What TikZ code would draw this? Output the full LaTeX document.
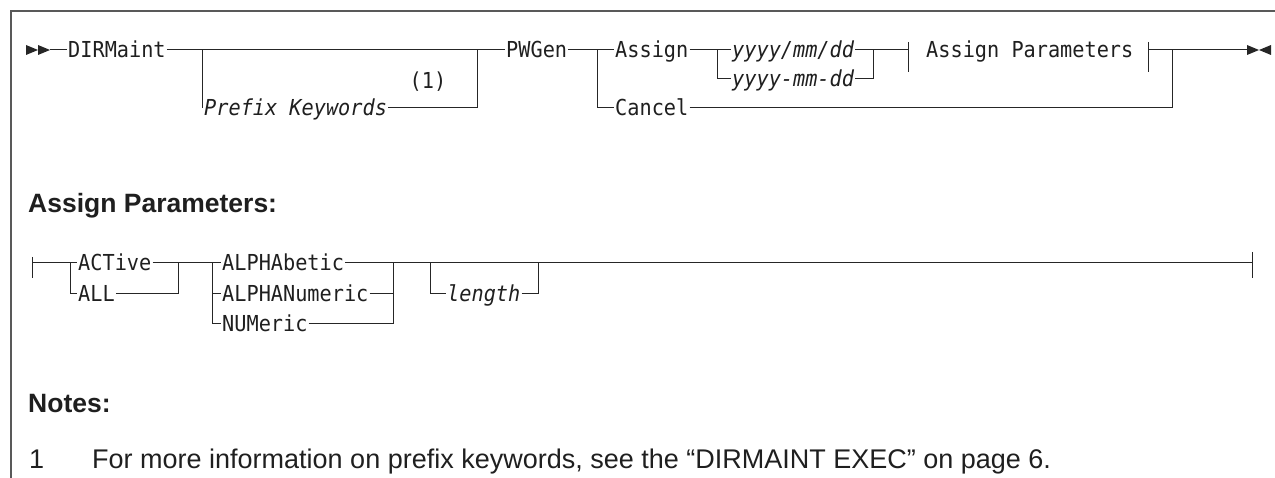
\documentclass[tikz,border=0pt]{standalone}
\usepackage{fontspec}
\setmainfont{Liberation Sans}
\setmonofont[FakeStretch=0.92]{DejaVu Sans Mono}
\begin{document}
\begin{tikzpicture}[x=1pt,y=-1pt,
  rr/.style={line width=1pt, draw=black!85},
  frame/.style={line width=1.2pt, draw=black!65},
  kw/.style={inner xsep=1pt, inner ysep=0pt, text height=21pt, text depth=5pt,
     font=\ttfamily\fontsize{22}{26}\selectfont, text=black!88},
  var/.style={kw, font=\ttfamily\itshape\fontsize{22}{26}\selectfont},
  head/.style={inner sep=0pt, anchor=base west, text=black!88,
     font=\bfseries\fontsize{26.5}{30}\selectfont},
  note/.style={inner sep=0pt, anchor=base west, text=black!88,
     font=\fontsize{27}{32}\selectfont},
  tip/.style={fill=black!85}
]
\useasboundingbox (0,0) rectangle (1275,478);
% frame
\coordinate (fTL) at (11,11);
\coordinate (fTR) at (1275,11);
\coordinate (fBL) at (11,478);
\draw[frame] (fTR) -- (fTL) -- (fBL);

% ===== main diagram =====
\coordinate (s0) at (50,50);
\fill[tip] (s0) ++(-24,-5) -- ++(12,5) -- ++(-12,5) -- cycle;
\fill[tip] (s0) ++(-12,-5) -- ++(12,5) -- ++(-12,5) -- cycle;
\node[kw, anchor=west] (dir) at (67,50) {DIRMaint};
\draw[rr] (s0) -- (dir.west);

\coordinate (p1) at (202,50);
\coordinate (p2) at (477,50);
\node[var, anchor=west] (pk) at (203,108) {Prefix Keywords};
\node[kw] (n1) at (428,81) {(1)};
\node[kw, anchor=west] (pw) at (505,50) {PWGen};
\draw[rr] (dir.east) -- (pw.west);
\draw[rr] (p1) |- (pk.west);
\draw[rr] (pk.east) -| (p2);

\coordinate (q1) at (597,50);
\node[kw, anchor=west] (as) at (614,50) {Assign};
\node[kw, anchor=west] (ca) at (614,108) {Cancel};
\draw[rr] (pw.east) -- (as.west);
\draw[rr] (q1) |- (ca.west);

\coordinate (d1) at (717,50);
\coordinate (d2) at (873,50);
\node[var, anchor=west] (y1) at (731,50) {yyyy/mm/dd};
\node[var, anchor=west] (y2) at (731,79) {yyyy-mm-dd};
\draw[rr] (as.east) -- (y1.west);
\draw[rr] (d1) |- (y2.west);
\draw[rr] (y2.east) -| (d2);

\coordinate (t1) at (908,50);
\coordinate (t2) at (1148,50);
\node[kw, anchor=west] (ap) at (925,50) {Assign Parameters};
\draw[rr] (y1.east) -- (t1);
\draw[rr] (t1) ++(0,-8) -- ++(0,30);
\draw[rr] (t2) ++(0,-8) -- ++(0,30);

\coordinate (c2) at (1172,50);
\coordinate (e0) at (1247,50);
\draw[rr] (t2) -- (e0);
\draw[rr] (ca.east) -| (c2);
\fill[tip] (e0) ++(0,-5) -- ++(12,5) -- ++(-12,5) -- cycle;
\fill[tip] (e0) ++(24,-5) -- ++(-12,5) -- ++(12,5) -- cycle;

% ===== Assign Parameters fragment =====
\node[head] (h1) at (28,213) {Assign Parameters:};

\coordinate (b0) at (32,263);
\draw[rr] (b0) ++(0,-6) -- ++(0,21);
\coordinate (a1) at (70,263);
\coordinate (a2) at (178,263);
\node[kw, anchor=west] (act) at (77,263) {ACTive};
\node[kw, anchor=west] (all) at (77,294) {ALL};
\draw[rr] (b0) -- (act.west);
\draw[rr] (a1) |- (all.west);
\draw[rr] (all.east) -| (a2);

\coordinate (g1) at (212,263);
\coordinate (g2) at (393,263);
\node[kw, anchor=west] (alb) at (221,263) {ALPHAbetic};
\node[kw, anchor=west] (aln) at (221,294) {ALPHANumeric};
\node[kw, anchor=west] (num) at (221,324) {NUMeric};
\draw[rr] (act.east) -- (alb.west);
\draw[rr] (g1) |- (aln.west);
\draw[rr] (g1) |- (num.west);
\draw[rr] (aln.east) -| (g2);
\draw[rr] (num.east) -| (g2);

\coordinate (l1) at (430,263);
\coordinate (l2) at (538,263);
\node[var, anchor=west] (len) at (446,294) {length};
\draw[rr] (l1) |- (len.west);
\draw[rr] (len.east) -| (l2);

\coordinate (bend) at (1252,263);
\draw[rr] (alb.east) -- (bend);
\draw[rr] (bend) ++(0,-11) -- ++(0,26);

% ===== notes =====
\node[head] (nh) at (28,413) {Notes:};
\node[note] (n1t) at (29,468) {1};
\node[note] (n1x) at (92,468) {For more information on prefix keywords, see the “DIRMAINT EXEC” on page 6.};
\end{tikzpicture}
\end{document}
